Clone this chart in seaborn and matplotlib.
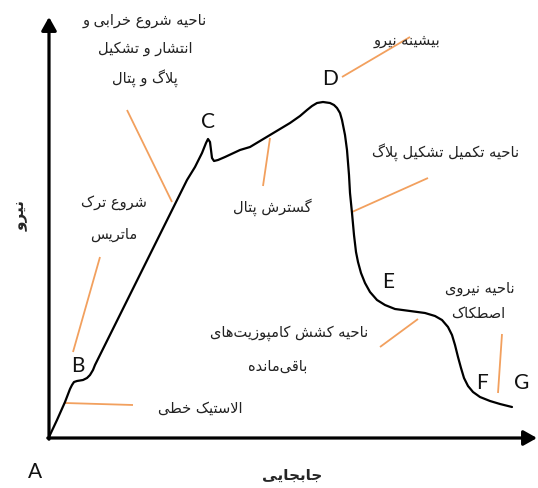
import matplotlib
matplotlib.use("Agg")
import matplotlib.pyplot as plt
import seaborn as sns

# force-displacement curve (arbitrary units, origin at A)
displacement = [0, 8, 16, 21, 23, 25, 28, 34, 38, 41, 44, 46, 138, 146, 153, 157, 159,
                161, 162, 163, 165, 169, 176, 191, 201, 211, 221, 241, 251, 258, 263,
                268, 274, 281, 285, 288, 291, 293, 296, 298, 300, 301, 303, 305, 307,
                309, 312, 316, 321, 328, 336, 346, 361, 376, 386, 393, 399, 403, 406,
                409, 412, 415, 419, 424, 431, 441, 451, 463]
force = [1, 18, 36, 49, 53, 56, 57, 58, 60, 63, 68, 73, 258, 271, 285, 295, 299,
         296, 288, 280, 277, 278, 281, 288, 291, 297, 303, 315, 322, 328, 332,
         335, 336, 335, 333, 330, 325, 318, 303, 288, 263, 245, 225, 203, 186,
         176, 165, 155, 146, 138, 133, 129, 127, 125, 122, 118, 111, 103, 93,
         81, 70, 60, 52, 46, 41, 37, 34, 31]

# orange leader lines: (x0, y0, x1, y1)
leaders = [
    (78, 328, 123, 236),
    (293, 361, 361, 401),
    (303, 226, 379, 260),
    (24, 86, 51, 181),
    (214, 252, 221, 300),
    (331, 91, 369, 119),
    (449, 45, 453, 104),
    (16, 35, 84, 33),
]

point_names = ["A", "B", "C", "D", "E", "F", "G"]
x_label = "جابجایی"
y_label = "نیرو"

# minimal persian shaping (matplotlib has no arabic text layout)
FORMS = {
    "ا": (0xFE8D, 0xFE8E, None, None),
    "ب": (0xFE8F, 0xFE90, 0xFE91, 0xFE92),
    "پ": (0xFB56, 0xFB57, 0xFB58, 0xFB59),
    "ت": (0xFE95, 0xFE96, 0xFE97, 0xFE98),
    "ج": (0xFE9D, 0xFE9E, 0xFE9F, 0xFEA0),
    "ح": (0xFEA1, 0xFEA2, 0xFEA3, 0xFEA4),
    "خ": (0xFEA5, 0xFEA6, 0xFEA7, 0xFEA8),
    "د": (0xFEA9, 0xFEAA, None, None),
    "ر": (0xFEAD, 0xFEAE, None, None),
    "ز": (0xFEAF, 0xFEB0, None, None),
    "س": (0xFEB1, 0xFEB2, 0xFEB3, 0xFEB4),
    "ش": (0xFEB5, 0xFEB6, 0xFEB7, 0xFEB8),
    "ص": (0xFEB9, 0xFEBA, 0xFEBB, 0xFEBC),
    "ط": (0xFEC1, 0xFEC2, 0xFEC3, 0xFEC4),
    "ع": (0xFEC9, 0xFECA, 0xFECB, 0xFECC),
    "ق": (0xFED5, 0xFED6, 0xFED7, 0xFED8),
    "ک": (0xFB8E, 0xFB8F, 0xFB90, 0xFB91),
    "گ": (0xFB92, 0xFB93, 0xFB94, 0xFB95),
    "ل": (0xFEDD, 0xFEDE, 0xFEDF, 0xFEE0),
    "م": (0xFEE1, 0xFEE2, 0xFEE3, 0xFEE4),
    "ن": (0xFEE5, 0xFEE6, 0xFEE7, 0xFEE8),
    "ه": (0xFEE9, 0xFEEA, 0xFEEB, 0xFEEC),
    "و": (0xFEED, 0xFEEE, None, None),
    "ی": (0xFBFC, 0xFBFD, 0xFBFE, 0xFBFF),
}


def dual(c):
    return c in FORMS and FORMS[c][2] is not None


def fa(text):
    out = []
    chars = list(text)
    i = 0
    while i < len(chars):
        c = chars[i]
        if c not in FORMS:
            if c != "\u200c":
                out.append(c)
            i += 1
            continue
        prev = chars[i - 1] if i > 0 else ""
        nxt = chars[i + 1] if i + 1 < len(chars) else ""
        jp = dual(prev)
        if c == "ل" and nxt == "ا":
            out.append(chr(0xFEFC if jp else 0xFEFB))
            i += 2
            continue
        jn = dual(c) and nxt in FORMS
        iso, fin, ini, med = FORMS[c]
        if jp and jn:
            code = med
        elif jp:
            code = fin
        elif jn:
            code = ini
        else:
            code = iso
        out.append(chr(code))
        i += 1
    return "".join(reversed(out))


sns.set_theme(style="white")
plt.rcParams["font.family"] = ["DejaVu Sans"]

fig = plt.figure(figsize=(5.38, 4.88), dpi=100)
ax = fig.add_axes([0, 0, 1, 1])
ax.set_xlim(-49, 489)
ax.set_ylim(-50, 438)
ax.axis("off")

orange = "#F2A05E"
for x0, y0, x1, y1 in leaders:
    ax.plot([x0, x1], [y0, y1], color=orange, lw=1.3, solid_capstyle="butt")

sns.lineplot(x=displacement, y=force, sort=False, estimator=None,
             color="black", lw=1.6, ax=ax)
for line in ax.lines[-1:]:
    line.set_solid_joinstyle("round")
    line.set_solid_capstyle("round")

# axes with arrow heads
arrow = dict(arrowstyle="-|>,head_length=0.8,head_width=0.45", color="black",
             lw=2.3, shrinkA=0, shrinkB=0, mutation_scale=10)
ax.annotate("", xy=(0, 421), xytext=(0, -1.2), arrowprops=arrow)
ax.annotate("", xy=(488, 0), xytext=(-1.2, 0), arrowprops=arrow)

# point letters
letter_font = dict(family="Lato", fontsize=15, color="#111111", ha="center", va="center")
letter_pos = [(-14, -34), (29, 72), (159, 316), (281, 359), (339, 156), (433, 55), (473, 55)]
for name, (lx, ly) in zip(point_names, letter_pos):
    ax.text(lx, ly, name, **letter_font)

# persian notes
note = dict(fontsize=10.5, color="#222222", ha="center", va="center")
ax.text(96, 418, fa("ناحیه شروع خرابی و"), **note)
ax.text(96, 390, fa("انتشار و تشکیل"), **note)
ax.text(96, 360, fa("پلاگ و پتال"), **note)
ax.text(358, 398, fa("بیشینه نیرو"), **note)
ax.text(397, 286, fa("ناحیه تکمیل تشکیل پلاگ"), **note)
ax.text(65, 235, fa("شروع ترک"), **note)
ax.text(65, 203, fa("ماتریس"), **note)
ax.text(223, 231, fa("گسترش پتال"), **note)
ax.text(431, 150, fa("ناحیه نیروی"), **note)
ax.text(429, 125, fa("اصطکاک"), **note)
ax.text(319, 105, fa("ناحیه کشش کامپوزیت\u200cهای"), **dict(note, ha="right"))
ax.text(229, 72, fa("باقی\u200cمانده"), **note)
ax.text(151, 30, fa("الاستیک خطی"), **note)

ax.text(243, -37, fa(x_label), fontsize=11, fontweight="bold", ha="center", va="center")
ax.text(-28, 222, fa(y_label), fontsize=11, fontweight="bold", rotation=90,
        ha="center", va="center")

fig.savefig("out.png", dpi=100)
